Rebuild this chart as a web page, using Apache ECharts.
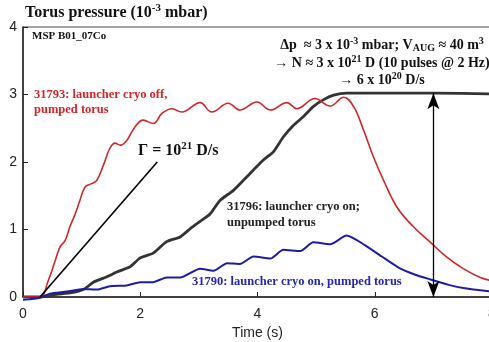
<!DOCTYPE html>
<html>
<head>
<meta charset="utf-8">
<script src="https://cdn.jsdelivr.net/npm/echarts@6/dist/echarts.min.js"></script>
<style>
  html, body { margin: 0; padding: 0; background: #fff; }
  #chart { width: 489px; height: 342px; }
</style>
</head>
<body>
<div id="chart"></div>
<script>
// 31793: launcher cryo off, pumped torus (red)
const redTime = [0, 0.29, 0.43, 0.55, 0.63, 0.72, 0.80, 0.89, 0.97, 1.06, 1.17, 1.26, 1.37, 1.48, 1.57, 1.66, 1.77, 1.91, 2.05, 2.22, 2.37, 2.54, 2.71, 3.02, 3.22, 3.50, 3.70, 3.99, 4.22, 4.50, 4.67, 4.98, 5.24, 5.47, 5.64, 5.81, 5.98, 6.15, 6.38, 6.66, 6.95, 7.23, 7.51, 7.80, 8.0];
const redVal  = [0, 0, 0.24, 0.54, 0.74, 0.84, 1.04, 1.23, 1.43, 1.63, 1.68, 1.73, 1.95, 2.20, 2.28, 2.25, 2.32, 2.52, 2.62, 2.57, 2.72, 2.79, 2.74, 2.88, 2.74, 2.87, 2.77, 2.89, 2.77, 2.88, 2.79, 2.94, 2.83, 2.96, 2.82, 2.47, 2.07, 1.73, 1.33, 1.04, 0.81, 0.59, 0.42, 0.29, 0.24];

// 31796: launcher cryo on, unpumped torus (black)
const blackTime = [0, 0.29, 0.57, 0.80, 1.05, 1.20, 1.43, 1.60, 1.83, 2.00, 2.22, 2.45, 2.68, 2.85, 3.02, 3.19, 3.36, 3.59, 3.76, 3.93, 4.10, 4.27, 4.44, 4.61, 4.78, 4.95, 5.12, 5.30, 5.52, 6.0, 7.0, 8.0];
const blackVal  = [0, 0, 0.04, 0.06, 0.12, 0.22, 0.30, 0.37, 0.45, 0.58, 0.65, 0.82, 0.89, 1.01, 1.12, 1.23, 1.43, 1.58, 1.73, 1.88, 2.03, 2.15, 2.37, 2.54, 2.67, 2.82, 2.92, 2.99, 3.02, 3.02, 3.02, 3.01];

// 31790: launcher cryo on, pumped torus (blue)
const blueTime = [0, 0.29, 0.46, 0.75, 1.03, 1.26, 1.48, 1.77, 2.00, 2.22, 2.45, 2.68, 3.02, 3.25, 3.48, 3.70, 3.93, 4.22, 4.44, 4.73, 4.95, 5.24, 5.52, 5.83, 6.12, 6.40, 6.69, 6.95, 7.26, 7.54, 8.0];
const blueVal  = [-0.04, -0.01, 0.05, 0.08, 0.12, 0.11, 0.16, 0.17, 0.22, 0.22, 0.29, 0.29, 0.42, 0.39, 0.50, 0.49, 0.60, 0.57, 0.70, 0.68, 0.81, 0.78, 0.91, 0.77, 0.60, 0.44, 0.33, 0.26, 0.18, 0.13, 0.08];

// reference rate line, Γ = 10^21 D/s
const gammaTime = [0.29, 2.29];
const gammaVal  = [0, 2.0];

// double arrow Δp
const arrowTime = 7.0;
const arrowVal  = [0, 3.02];

const xTicks = [0, 2, 4, 6, 8];
const yTicks = [0, 1, 2, 3, 4];

const SERIF = '"Liberation Serif", "Times New Roman", serif';
const SANS = '"Liberation Sans", Arial, Helvetica, sans-serif';

function pairs(t, v) {
    return t.map((x, i) => [x, v[i]]);
}

function richFor(size, color) {
    const small = Math.round(size * 0.68);
    return {
        sup: { fontSize: small, fontFamily: SERIF, fontWeight: 'bold', fill: color, padding: [0, 0, Math.round(size * 0.6), 0] },
        sub: { fontSize: small, fontFamily: SERIF, fontWeight: 'bold', fill: color, padding: [Math.round(size * 0.45), 0, 0, 0] }
    };
}

function label(text, x, y, size, color, align) {
    return {
        type: 'text',
        x: x,
        y: y,
        z: 100,
        style: {
            text: text,
            fontSize: size,
            fontFamily: SERIF,
            fontWeight: 'bold',
            fill: color,
            align: align || 'left',
            verticalAlign: 'middle',
            rich: richFor(size, color)
        }
    };
}

const chart = echarts.init(document.getElementById('chart'));

const option = {
    animation: false,
    backgroundColor: '#fff',
    grid: {
        left: 23,
        right: -3,
        top: 27,
        bottom: 45,
        outerBoundsMode: 'none',
        containLabel: false,
        show: true,
        borderColor: '#444',
        borderWidth: 1
    },
    xAxis: {
        type: 'value',
        min: 0,
        max: 8,
        interval: 2,
        name: 'Time (s)',
        nameLocation: 'middle',
        nameGap: 26,
        nameTextStyle: { fontFamily: SANS, fontSize: 14, color: '#222' },
        axisLine: { show: true, lineStyle: { color: '#222', width: 1.5 } },
        axisTick: { show: true, inside: true, length: 5, lineStyle: { color: '#222' } },
        axisLabel: {
            margin: 10,
            fontFamily: SANS,
            fontSize: 14,
            color: '#222',
            formatter: v => xTicks.includes(v) ? String(v) : ''
        },
        splitLine: { show: false }
    },
    yAxis: {
        type: 'value',
        min: 0,
        max: 4,
        interval: 1,
        axisLine: { show: true, lineStyle: { color: '#222', width: 1.5 } },
        axisTick: { show: true, inside: true, length: 5, lineStyle: { color: '#222' } },
        axisLabel: {
            margin: 6,
            fontFamily: SANS,
            fontSize: 14,
            color: '#222',
            formatter: v => yTicks.includes(v) ? String(v) : ''
        },
        splitLine: { show: false }
    },
    series: [
        {
            name: '31796',
            type: 'line',
            data: pairs(blackTime, blackVal),
            symbol: 'none',
            smooth: 0.2,
            lineStyle: { color: '#333', width: 2.8 },
            markLine: {
                silent: true,
                symbol: ['arrow', 'arrow'],
                symbolSize: [9, 16],
                label: { show: false },
                lineStyle: { color: '#000', width: 1.3, type: 'solid' },
                data: [[{ coord: [arrowTime, arrowVal[0]] }, { coord: [arrowTime, arrowVal[1]] }]]
            }
        },
        {
            name: '31793',
            type: 'line',
            data: pairs(redTime, redVal),
            symbol: 'none',
            smooth: 0.4,
            lineStyle: { color: '#d3262a', width: 1.6 }
        },
        {
            name: '31790',
            type: 'line',
            data: pairs(blueTime, blueVal),
            symbol: 'none',
            smooth: 0.2,
            clip: false,
            lineStyle: { color: '#1c1ca6', width: 2 }
        },
        {
            name: 'gamma',
            type: 'line',
            data: pairs(gammaTime, gammaVal),
            symbol: 'none',
            lineStyle: { color: '#000', width: 1.6 }
        }
    ],
    graphic: [
        label('Torus pressure (10{sup|-3} mbar)', 25, 13, 16, '#111'),
        label('MSP B01_07Co', 32, 36, 11, '#111'),
        label('31793: launcher cryo off,', 34, 95, 12.5, '#d3262a'),
        label('pumped torus', 34, 110, 12.5, '#d3262a'),
        label('Γ = 10{sup|21} D/s', 138, 151, 16, '#111'),
        label('31796: launcher cryo on;', 227, 207, 12.5, '#222'),
        label('unpumped torus', 227, 223, 12.5, '#222'),
        label('31790: launcher cryo on, pumped torus', 192, 282, 12.5, '#2525b0'),
        label('Δp  ≈ 3 x 10{sup|-3} mbar; V{sub|AUG} ≈ 40 m{sup|3}', 382, 45, 14, '#111', 'center'),
        label('→ N ≈ 3 x 10{sup|21} D (10 pulses @ 2 Hz)', 382, 63, 14, '#111', 'center'),
        label('→ 6 x 10{sup|20} D/s', 382, 80, 14, '#111', 'center')
    ]
};

chart.setOption(option);

window.addEventListener('resize', function () {
    chart.resize();
});
</script>
</body>
</html>
